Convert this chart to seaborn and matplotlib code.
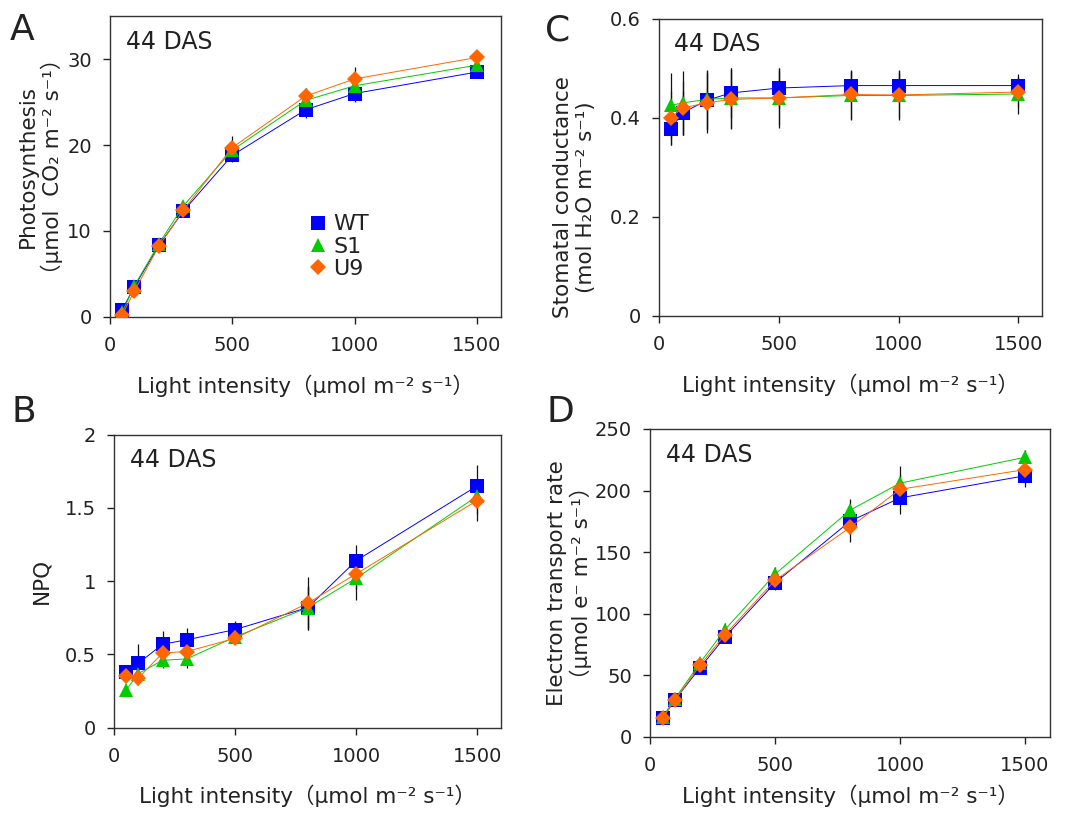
import matplotlib
matplotlib.use('Agg')
import matplotlib.pyplot as plt
import seaborn as sns
import numpy as np
import pandas as pd

# light intensities (umol m-2 s-1)
light = [50, 100, 200, 300, 500, 800, 1000, 1500]
lines = ['WT', 'S1', 'U9']

# === A: photosynthesis ===
photo_wt = [0.8, 3.5, 8.3, 12.3, 18.8, 24.1, 26.0, 28.5]
photo_s1 = [0.5, 3.6, 8.5, 12.9, 19.4, 25.2, 26.9, 29.3]
photo_u9 = [0.2, 3.0, 8.2, 12.4, 19.7, 25.7, 27.7, 30.2]
photo_wt_err = [0.2, 0.3, 0.4, 0.5, 0.8, 0.9, 1.0, 0.6]
photo_s1_err = [0.2, 0.3, 0.4, 0.4, 0.9, 0.8, 1.1, 0.5]
photo_u9_err = [0.2, 0.3, 0.4, 0.5, 1.3, 1.0, 1.4, 0.5]

# === B: NPQ ===
npq_wt = [0.38, 0.44, 0.57, 0.60, 0.67, 0.82, 1.14, 1.65]
npq_s1 = [0.26, 0.37, 0.46, 0.47, 0.62, 0.82, 1.02, 1.58]
npq_u9 = [0.35, 0.34, 0.51, 0.52, 0.61, 0.85, 1.05, 1.55]
npq_wt_err = [0.05, 0.13, 0.09, 0.08, 0.06, 0.15, 0.11, 0.14]
npq_s1_err = [0.04, 0.06, 0.05, 0.06, 0.04, 0.14, 0.15, 0.12]
npq_u9_err = [0.04, 0.05, 0.05, 0.05, 0.04, 0.18, 0.10, 0.14]

# === C: stomatal conductance ===
gs_wt = [0.377, 0.410, 0.435, 0.450, 0.460, 0.465, 0.465, 0.465]
gs_s1 = [0.425, 0.430, 0.437, 0.440, 0.440, 0.445, 0.445, 0.448]
gs_u9 = [0.400, 0.420, 0.430, 0.437, 0.440, 0.447, 0.446, 0.452]
gs_wt_err = [0.032, 0.045, 0.06, 0.05, 0.04, 0.03, 0.03, 0.015]
gs_s1_err = [0.065, 0.065, 0.06, 0.06, 0.055, 0.05, 0.045, 0.04]
gs_u9_err = [0.055, 0.055, 0.06, 0.06, 0.06, 0.05, 0.05, 0.03]

# === D: electron transport rate ===
etr_wt = [15, 30, 56, 81, 125, 175, 194, 212]
etr_s1 = [16, 31, 60, 87, 132, 184, 206, 227]
etr_u9 = [15, 30, 58, 83, 127, 170, 201, 217]
etr_wt_err = [2, 3, 4, 5, 6, 10, 13, 9]
etr_s1_err = [2, 3, 4, 5, 6, 9, 14, 6]
etr_u9_err = [2, 3, 4, 5, 6, 12, 12, 8]

colors = {'WT': '#0000FF', 'S1': '#00CC00', 'U9': '#FF6600'}
markers = {'WT': 's', 'S1': '^', 'U9': 'D'}
msizes = {'WT': 10, 'S1': 10, 'U9': 8}

sns.set_style('ticks')
plt.rcParams['font.family'] = ['DejaVu Sans', 'Noto Sans CJK JP']
plt.rcParams['text.color'] = '#222222'
plt.rcParams['axes.labelcolor'] = '#222222'
plt.rcParams['xtick.color'] = '#222222'
plt.rcParams['ytick.color'] = '#222222'

fig = plt.figure(figsize=(10.78, 8.14), dpi=100)

panels = [
    ('A', [0.102, 0.611, 0.363, 0.369], (photo_wt, photo_s1, photo_u9),
     (photo_wt_err, photo_s1_err, photo_u9_err), (0, 35), [0, 10, 20, 30], ['0', '10', '20', '30'],
     'Photosynthesis\n（μmol  CO₂ m⁻² s⁻¹）', 3, 0.5, 14),
    ('C', [0.611, 0.612, 0.356, 0.365], (gs_wt, gs_s1, gs_u9),
     (gs_wt_err, gs_s1_err, gs_u9_err), (0, 0.6), [0, 0.2, 0.4, 0.6], ['0', '0.2', '0.4', '0.6'],
     'Stomatal conductance\n(mol H₂O m⁻² s⁻¹)', 10, 0.40, 14),
    ('B', [0.106, 0.106, 0.359, 0.360], (npq_wt, npq_s1, npq_u9),
     (npq_wt_err, npq_s1_err, npq_u9_err), (0, 2), [0, 0.5, 1, 1.5, 2], ['0', '0.5', '1', '1.5', '2'],
     'NPQ', 10, 0.5, 13),
    ('D', [0.603, 0.095, 0.371, 0.378], (etr_wt, etr_s1, etr_u9),
     (etr_wt_err, etr_s1_err, etr_u9_err), (0, 250), [0, 50, 100, 150, 200, 250],
     ['0', '50', '100', '150', '200', '250'],
     'Electron transport rate\n（μmol e⁻ m⁻² s⁻¹）', 2, 0.5, 7),
]

for letter, rect, series, errs, ylim, yticks, yticklabels, ylabel, ypad, ypos, xpad in panels:
    ax = fig.add_axes(rect)
    for name, vals, err in zip(lines, series, errs):
        ax.errorbar(light, vals, yerr=err, fmt='none', ecolor='#111111',
                    elinewidth=0.9, capsize=0, zorder=1)
    for name, vals in zip(lines, series):
        df = pd.DataFrame({'light': light, 'value': vals})
        sns.lineplot(data=df, x='light', y='value', ax=ax, color=colors[name],
                     marker=markers[name], markersize=msizes[name], markeredgewidth=0,
                     linewidth=0.7, label=name, zorder=3)
    ax.set_xlim(0, 1600)
    ax.set_ylim(*ylim)
    ax.set_xticks([0, 500, 1000, 1500])
    ax.set_yticks(yticks)
    ax.set_yticklabels(yticklabels)
    ax.tick_params(labelsize=14, direction='out', length=5, width=1)
    ax.tick_params(axis='x', pad=9)
    ax.tick_params(axis='y', pad=8)
    for sp in ax.spines.values():
        sp.set_visible(True)
        sp.set_color('#333333')
        sp.set_linewidth(1.0)
    ax.set_xlabel('Light intensity（μmol m⁻² s⁻¹）', fontsize=15.5, labelpad=xpad)
    ax.set_ylabel(ylabel, fontsize=15.5, labelpad=ypad, linespacing=1.15)
    ax.yaxis.label.set_y(ypos)
    ax.text(0.04, 0.955, '44 DAS', transform=ax.transAxes, fontsize=17, va='top', ha='left')
    if letter == 'A':
        ax.legend(loc='upper left', bbox_to_anchor=(0.48, 0.37), frameon=False, fontsize=16,
                  handlelength=1.0, handletextpad=0.2, labelspacing=0.1, borderaxespad=0)
        for line in ax.get_legend().get_lines():
            line.set_linestyle('none')
    else:
        ax.get_legend().remove()

fig.text(0.009, 0.984, 'A', fontsize=26, va='top', ha='left')
fig.text(0.506, 0.984, 'C', fontsize=26, va='top', ha='left')
fig.text(0.011, 0.515, 'B', fontsize=26, va='top', ha='left')
fig.text(0.507, 0.515, 'D', fontsize=26, va='top', ha='left')

fig.savefig('out.png', dpi=100)
